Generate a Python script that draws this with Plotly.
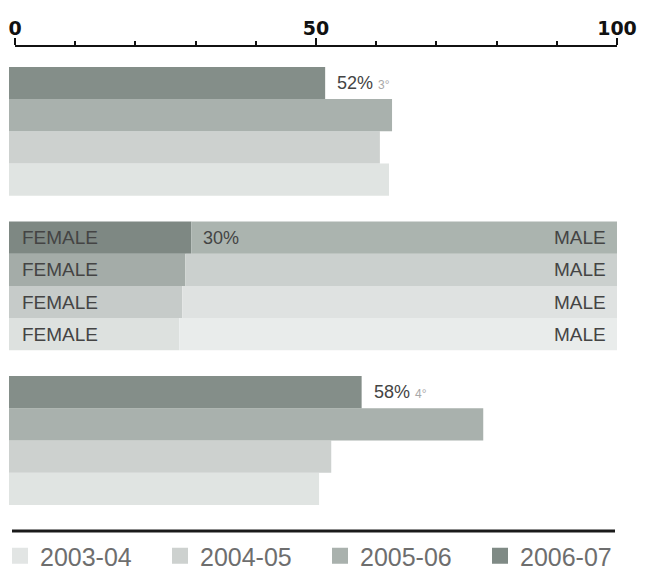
import plotly.graph_objects as go

# Seasons, oldest first
years = ["2003-04", "2004-05", "2005-06", "2006-07"]

# Upper block: share per season (%)
top_share = [62.5, 61, 63, 52]
top_rank = "3°"

# Middle block: female share per season (%), the rest is male
female_share = [28, 28.5, 29, 30]

# Lower block: share per season (%)
bottom_share = [51, 53, 78, 58]
bottom_rank = "4°"

axis_ticks = [0, 50, 100]

# Colours per season (oldest -> newest)
year_colors = ["#e0e4e2", "#cdd1cf", "#a9b1ad", "#848e89"]
female_colors = ["#dde1df", "#c6cbc9", "#a4aca8", "#7e8883"]
male_colors = ["#e9eceb", "#dfe2e1", "#cbd0ce", "#abb4af"]
legend_colors = ["#e2e5e4", "#cdd1cf", "#a9b1ad", "#7f8a85"]

W, H = 651, 569
GROUP_STEP = 4.8


def px_x(p):
    return p / W


def px_y(p):
    return 1 - p / H


def row(group, j):
    # newest season on top of each block
    return group * GROUP_STEP + (len(years) - 1 - j)


fig = go.Figure()

# Upper and lower blocks
for g, values in ((0, top_share), (2, bottom_share)):
    fig.add_trace(go.Bar(
        orientation="h",
        y=[row(g, j) for j in range(len(years))],
        x=values,
        width=1,
        marker=dict(color=year_colors, line=dict(width=0)),
        showlegend=False,
        hoverinfo="skip",
    ))

# Middle block: female part, then male part stacked after it
fig.add_trace(go.Bar(
    orientation="h",
    y=[row(1, j) for j in range(len(years))],
    x=female_share,
    width=1,
    marker=dict(color=female_colors, line=dict(width=0)),
    showlegend=False,
    hoverinfo="skip",
))
fig.add_trace(go.Bar(
    orientation="h",
    y=[row(1, j) for j in range(len(years))],
    x=[100 - f for f in female_share],
    base=female_share,
    width=1,
    marker=dict(color=male_colors, line=dict(width=0)),
    showlegend=False,
    hoverinfo="skip",
))

# Legend entries
for name, col in zip(years, legend_colors):
    fig.add_trace(go.Scatter(
        x=[None], y=[None], xaxis="x2", yaxis="y2",
        mode="markers", name=name,
        marker=dict(symbol="square", size=22, color=col),
        hoverinfo="skip",
    ))

label_font = dict(family="Liberation Sans", size=18, color="#444444")
annotations = []
newest = len(years) - 1

for g, values, rank in ((0, top_share, top_rank), (2, bottom_share, bottom_rank)):
    annotations.append(dict(
        x=values[newest], y=row(g, newest), xref="x", yref="y",
        xanchor="left", yanchor="middle", xshift=10, showarrow=False,
        text=f"{values[newest]:g}% <span style='font-size:12px;color:#a8a8a8'>{rank}</span>",
        font=label_font,
    ))

annotations.append(dict(
    x=female_share[newest], y=row(1, newest), xref="x", yref="y",
    xanchor="left", yanchor="middle", xshift=10, showarrow=False,
    text=f"{female_share[newest]:g}%", font=label_font,
))

for j in range(len(years)):
    annotations.append(dict(
        x=0, y=row(1, j), xref="x", yref="y", xanchor="left", yanchor="middle",
        xshift=11, showarrow=False, text="FEMALE",
        font=dict(label_font, size=19),
    ))
    annotations.append(dict(
        x=100, y=row(1, j), xref="x", yref="y", xanchor="right", yanchor="middle",
        xshift=-9, showarrow=False, text="MALE",
        font=dict(label_font, size=19),
    ))

fig.update_layout(
    width=W, height=H,
    margin=dict(l=0, r=0, t=0, b=0, autoexpand=False),
    paper_bgcolor="white", plot_bgcolor="white",
    barmode="overlay",
    xaxis=dict(domain=[px_x(9), px_x(617)], range=[0, 100], visible=False,
               fixedrange=True),
    yaxis=dict(domain=[px_y(531), px_y(45)], range=[13.91, -1.18],
               visible=False, fixedrange=True),
    xaxis2=dict(
        domain=[px_x(15), px_x(617)], range=[0, 100], anchor="y2", side="top",
        showline=True, linecolor="#111", linewidth=2,
        ticks="outside", ticklen=7, tickwidth=2, tickcolor="#111",
        tickvals=axis_ticks, ticktext=[str(t) for t in axis_ticks],
        tickfont=dict(family="DejaVu Sans", size=19, color="#111", weight="bold"),
        ticklabelstandoff=-5,
        showgrid=False, zeroline=False,
        minor=dict(ticks="outside", dtick=10, tick0=0, ticklen=4,
                   tickwidth=1.5, tickcolor="#111", showgrid=False),
        fixedrange=True,
    ),
    yaxis2=dict(domain=[px_y(48), px_y(47)], range=[0, 1], visible=False,
                fixedrange=True),
    showlegend=True,
    legend=dict(
        orientation="h", x=px_x(0), y=px_y(533), xanchor="left", yanchor="top",
        entrywidth=115, entrywidthmode="pixels", itemsizing="trace",
        font=dict(family="Liberation Sans", size=25, color="#6e6e6e"),
        bgcolor="rgba(0,0,0,0)", traceorder="normal",
    ),
    shapes=[dict(
        type="line", xref="paper", yref="paper",
        x0=px_x(12), x1=px_x(615), y0=px_y(531), y1=px_y(531),
        line=dict(color="#1a1a1a", width=3),
    )],
    annotations=annotations,
)

fig.write_html("out.html")
